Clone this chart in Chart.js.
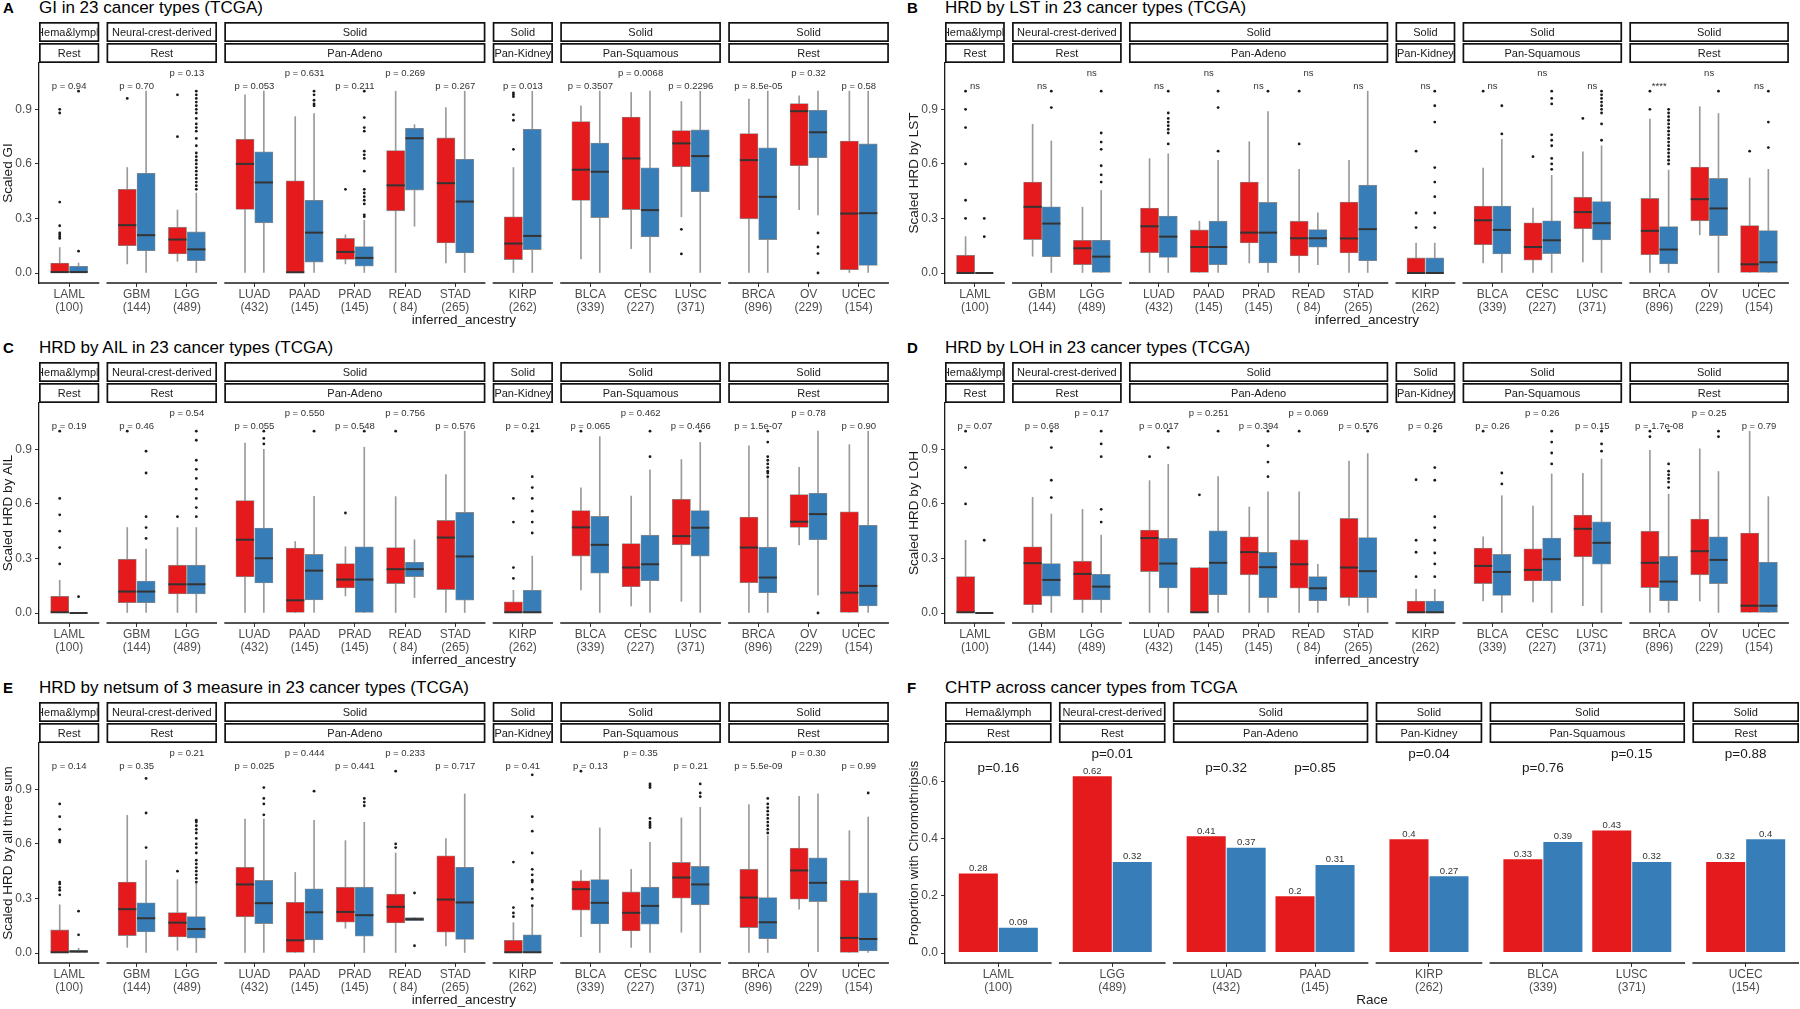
<!DOCTYPE html>
<html>
<head>
<meta charset="utf-8">
<script src="https://cdn.jsdelivr.net/npm/chart.js@4.4.1/dist/chart.umd.min.js"></script>
<style>
body { margin: 0; background: #fff; width: 1800px; height: 1009px; overflow: hidden; position: relative; font-family: "Liberation Sans", Arial, sans-serif; }
canvas { position: absolute; }
.ttl { position: absolute; font-size: 17px; line-height: 18px; color: #000; white-space: nowrap; }
.tag { position: absolute; font-size: 15px; font-weight: bold; line-height: 18px; color: #000; }
</style>
</head>
<body>
<script>
'use strict';
// ---- categories (boxplot panels A-E) ----
var cancers = ['LAML', 'GBM', 'LGG', 'LUAD', 'PAAD', 'PRAD', 'READ', 'STAD', 'KIRP', 'BLCA', 'CESC', 'LUSC', 'BRCA', 'OV', 'UCEC'];
var cohortSizes = ['100', '144', '489', '432', '145', '145', ' 84', '265', '262', '339', '227', '371', '896', '229', '154'];
var facetSizes = [1, 2, 5, 1, 3, 3];
var stripTop = ['Hema&lymph', 'Neural-crest-derived', 'Solid', 'Solid', 'Solid', 'Solid'];
var stripBottom = ['Rest', 'Rest', 'Pan-Adeno', 'Pan-Kidney', 'Pan-Squamous', 'Rest'];
var pRows = [0, 0, 1, 0, 1, 0, 1, 0, 0, 0, 1, 0, 0, 1, 0];
var yTicksBox = [0, 0.3, 0.6, 0.9];

// box stats per cancer: [lower whisker, q1, median, q3, upper whisker]
// A: GI
var giRed = [[0,0,0.005,0.055,0.14],[0.05,0.15,0.263,0.46,0.58],[0.064,0.105,0.184,0.252,0.346],[0,0.35,0.6,0.735,0.98],[0,0,0.004,0.507,0.86],[0.05,0.075,0.116,0.19,0.21],[0,0.342,0.482,0.673,1],[0.055,0.165,0.494,0.743,0.91],[0,0.074,0.162,0.309,0.58],[0.077,0.399,0.568,0.833,0.92],[0.134,0.349,0.63,0.858,0.993],[0.309,0.585,0.713,0.783,0.943],[0,0.298,0.621,0.767,0.956],[0.349,0.59,0.89,0.932,0.974],[0,0.018,0.327,0.726,1]];
var giRedOut = [[0.19,0.2,0.21,0.22,0.26,0.39,0.88,0.9],[0.96],[0.75,0.98],[],[],[0.46],[],[],[0.68,0.84,0.87,0.97,0.98,0.99],[],[],[0.105,0.24],[],[],[]];
var giBlue = [[0,0,0.005,0.037,0.055],[0,0.123,0.208,0.548,1],[0,0.068,0.13,0.226,0.44],[0,0.276,0.498,0.667,1],[0,0.06,0.222,0.4,0.877],[0,0.037,0.083,0.145,0.29],[0.257,0.456,0.741,0.796,0.816],[0,0.11,0.393,0.625,1],[0,0.129,0.204,0.79,1],[0,0.305,0.557,0.715,1],[0,0.199,0.346,0.579,1],[0,0.447,0.643,0.787,1],[0,0.184,0.419,0.689,1],[0.32,0.634,0.774,0.895,1],[0,0.042,0.329,0.71,1]];
var giBlueOut = [[0.12,1],[],[0.46,0.48,0.5,0.52,0.54,0.56,0.58,0.6,0.62,0.64,0.66,0.7,0.74,0.78,0.8,0.82,0.85,0.88,0.9,0.92,0.94,0.96,0.98,1],[],[0.92,0.93,0.95,0.98,1],[0.31,0.32,0.38,0.4,0.42,0.44,0.46,0.56,0.63,0.65,0.67,0.78,0.8,0.855,1],[],[],[],[],[],[],[],[0,0.107,0.143,0.22],[]];
var giP = ['p = 0.94','p = 0.70','p = 0.13','p = 0.053','p = 0.631','p = 0.211','p = 0.269','p = 0.267','p = 0.013','p = 0.3507','p = 0.0068','p = 0.2296','p = 8.5e-05','p = 0.32','p = 0.58'];

// B: LST
var lstRed = [[0,0,0,0.097,0.2],[0.092,0.184,0.364,0.5,0.818],[0,0.046,0.136,0.18,0.362],[0,0.112,0.257,0.357,0.629],[0,0,0.143,0.237,0.285],[0.055,0.165,0.222,0.5,0.722],[0,0.094,0.191,0.285,0.57],[0,0.11,0.19,0.39,0.62],[0,0,0,0.083,0.164],[0.055,0.156,0.29,0.368,0.577],[0,0.07,0.143,0.276,0.357],[0.061,0.243,0.335,0.417,0.667],[0,0.101,0.232,0.41,0.847],[0.21,0.287,0.406,0.583,0.915],[0,0,0.048,0.261,0.522]];
var lstRedOut = [[0.3,0.4,0.6,0.8,0.9,1],[],[],[],[],[],[0.71,1],[],[0.25,0.33,0.67],[1],[0.64],[0.85],[0.9,1],[],[0.67]];
var lstBlue = [[0,0,0,0,0],[0,0.09,0.272,0.364,0.726],[0,0,0.09,0.18,0.454],[0,0.086,0.2,0.313,0.656],[0,0.046,0.143,0.285,0.62],[0,0.055,0.222,0.388,0.888],[0.046,0.142,0.191,0.239,0.331],[0,0.068,0.241,0.483,1],[0,0,0,0.083,0.164],[0,0.105,0.237,0.368,0.735],[0,0.107,0.18,0.287,0.537],[0,0.182,0.274,0.393,0.7],[0,0.05,0.129,0.255,0.566],[0,0.206,0.355,0.52,0.877],[0,0,0.059,0.233,0.57]];
var lstBlueOut = [[0.2,0.3],[0.91,1],[0.5,0.54,0.59,0.68,0.72,0.77,1],[0.71,0.77,0.79,0.81,0.83,0.85,0.88,1],[0.67,0.91,1],[1],[],[],[0.25,0.33,0.42,0.5,0.58,0.83,0.92,1],[0.765,0.92],[0.57,0.6,0.63,0.7,0.73,0.76,0.93,0.96,1],[0.73,0.82,0.88,0.9,0.92,0.94,0.96,0.98,1],[0.6,0.62,0.64,0.66,0.68,0.7,0.72,0.74,0.76,0.78,0.8,0.82,0.84,0.86,0.88,0.9],[1],[0.69,0.83,1]];
var lstP = ['ns','ns','ns','ns','ns','ns','ns','ns','ns','ns','ns','ns','****','ns','ns'];

// C: AIL
var ailRed = [[0,0,0.004,0.092,0.18],[0,0.057,0.118,0.296,0.47],[0,0.105,0.158,0.263,0.47],[0,0.2,0.403,0.618,0.934],[0,0,0.07,0.357,0.393],[0.094,0.138,0.184,0.272,0.364],[0,0.162,0.241,0.36,0.64],[0,0.129,0.415,0.509,0.761],[0,0,0.004,0.062,0.125],[0.127,0.313,0.471,0.563,0.688],[0.039,0.145,0.25,0.382,0.643],[0.064,0.375,0.423,0.625,0.844],[0,0.167,0.36,0.528,0.919],[0.375,0.471,0.502,0.651,0.801],[0,0,0.112,0.557,0.926]];
var ailRedOut = [[0.27,0.36,0.45,0.54,0.63,1],[1],[0.53],[],[],[0.55],[1],[],[0.19,0.25,0.5,0.63],[1],[],[],[],[],[]];
var ailBlue = [[0,0,0,0,0],[0,0.057,0.118,0.176,0.351],[0,0.105,0.158,0.263,0.47],[0,0.165,0.301,0.467,0.9],[0,0.072,0.233,0.322,0.642],[0,0,0.184,0.364,0.912],[0.085,0.2,0.241,0.279,0.403],[0,0.07,0.311,0.553,1],[0,0,0.004,0.125,0.313],[0,0.219,0.375,0.531,0.97],[0,0.178,0.268,0.428,0.787],[0,0.313,0.469,0.563,0.938],[0,0.112,0.195,0.362,0.74],[0.1,0.403,0.544,0.658,1],[0,0.039,0.149,0.482,1]];
var ailBlueOut = [[0.09],[0.41,0.47,0.53,0.77,0.89],[0.53,0.58,0.63,0.68,0.74,0.79,0.84,0.95,1],[0.93,0.96,1],[1],[1],[],[],[0.44,0.5,0.56,0.63,0.69,0.75,1],[],[0.86,1],[1],[0.75,0.77,0.78,0.8,0.82,0.84,0.86,0.94,1],[0],[]];
var ailP = ['p = 0.19','p = 0.46','p = 0.54','p = 0.055','p = 0.550','p = 0.548','p = 0.756','p = 0.576','p = 0.21','p = 0.065','p = 0.462','p = 0.466','p = 1.5e-07','p = 0.78','p = 0.90'];

// D: LOH
var lohRed = [[0,0,0.004,0.2,0.4],[0,0.046,0.274,0.364,0.636],[0,0.072,0.215,0.285,0.57],[0,0.228,0.412,0.456,0.728],[0,0,0.004,0.25,0.25],[0,0.21,0.335,0.419,0.583],[0,0.136,0.268,0.403,0.667],[0.042,0.085,0.25,0.52,0.836],[0,0,0.004,0.066,0.13],[0.066,0.162,0.259,0.357,0.419],[0.061,0.176,0.237,0.353,0.588],[0.04,0.309,0.463,0.539,0.768],[0,0.14,0.276,0.45,0.895],[0.066,0.21,0.34,0.517,0.903],[0,0,0.04,0.44,1]];
var lohRedOut = [[0.6,0.8,1],[],[],[0.86],[0.65],[],[1],[],[0.2,0.334,0.4,0.733],[1],[],[],[0.97,1],[],[]];
var lohBlue = [[0,0,0,0,0],[0,0.092,0.182,0.272,0.544],[0,0.072,0.145,0.213,0.428],[0,0.138,0.272,0.41,0.818],[0,0.101,0.276,0.452,0.75],[0,0.085,0.252,0.333,0.667],[0,0.068,0.136,0.2,0.267],[0,0.085,0.23,0.415,0.877],[0,0,0.004,0.066,0.13],[0,0.097,0.226,0.322,0.645],[0,0.176,0.296,0.412,0.765],[0,0.268,0.386,0.502,0.847],[0,0.068,0.173,0.311,0.654],[0,0.162,0.292,0.419,0.778],[0,0,0.04,0.279,0.64]];
var lohBlueOut = [[0.4],[0.635,0.73,0.91,1],[0.5,0.57,0.86,0.93,1],[0.91,1],[1],[0.75,0.83,0.92,1],[],[1],[0.2,0.27,0.33,0.4,0.47,0.53,0.73,0.8,1],[0.71,0.77],[0.82,0.88,0.94,1],[0.89,0.93,1],[0.69,0.72,0.74,0.76,0.78,0.82,1],[0.97,1],[]];
var lohP = ['p = 0.07','p = 0.68','p = 0.17','p = 0.017','p = 0.251','p = 0.394','p = 0.069','p = 0.576','p = 0.26','p = 0.26','p = 0.26','p = 0.15','p = 1.7e-08','p = 0.25','p = 0.79'];

// E: netsum
var sumRed = [[0,0,0.004,0.127,0.265],[0.031,0.096,0.241,0.39,0.757],[0.015,0.088,0.167,0.222,0.403],[0,0.199,0.377,0.471,0.737],[0,0,0.07,0.279,0.443],[0.136,0.169,0.226,0.362,0.618],[0,0.165,0.254,0.324,0.55],[0.039,0.114,0.294,0.535,0.629],[0,0,0.004,0.07,0.167],[0.09,0.235,0.351,0.397,0.454],[0.031,0.121,0.221,0.336,0.46],[0.114,0.301,0.415,0.498,0.743],[0,0.14,0.305,0.461,0.816],[0.241,0.296,0.454,0.577,0.862],[0,0,0.083,0.399,0.673]];
var sumRedOut = [[0.32,0.345,0.36,0.38,0.39,0.61,0.62,0.68,0.75,0.82],[],[0.45],[],[],[],[0.58,0.6,1],[],[0.2,0.22,0.25,0.5],[1],[],[],[],[],[]];
var sumBlue = [[0,0,0.008,0.015,0.026],[0,0.116,0.191,0.276,0.509],[0,0.081,0.132,0.2,0.384],[0,0.162,0.274,0.399,0.737],[0,0.072,0.224,0.353,0.73],[0,0.092,0.208,0.362,0.719],[0.178,0.178,0.186,0.195,0.195],[0,0.075,0.278,0.471,0.875],[0,0,0.004,0.1,0.25],[0,0.16,0.276,0.404,0.688],[0,0.158,0.259,0.362,0.608],[0,0.265,0.377,0.476,0.801],[0,0.079,0.169,0.305,0.645],[0.007,0.283,0.386,0.524,0.875],[0,0.011,0.077,0.331,0.748]];
var sumBlueOut = [[0.1,0.23],[0.58,0.77,0.96],[0.39,0.41,0.43,0.45,0.47,0.49,0.51,0.55,0.58,0.6,0.63,0.66,0.68,0.7,0.72,0.73],[0.76,0.82,0.85,0.91],[0.89],[0.81,0.83,0.85],[0.04,0.33],[],[0.26,0.3,0.35,0.39,0.4,0.43,0.46,0.55,0.67,0.75,0.98],[],[0.69,0.7,0.71,0.72,0.74,0.91,0.92,0.93],[0.86,0.88,0.93],[0.66,0.68,0.7,0.72,0.74,0.76,0.78,0.8,0.82,0.85],[],[0.88]];
var sumP = ['p = 0.14','p = 0.35','p = 0.21','p = 0.025','p = 0.444','p = 0.441','p = 0.233','p = 0.717','p = 0.41','p = 0.13','p = 0.35','p = 0.21','p = 5.5e-09','p = 0.30','p = 0.99'];

// F: chromothripsis proportion
var chtpCancers = ['LAML', 'LGG', 'LUAD', 'PAAD', 'KIRP', 'BLCA', 'LUSC', 'UCEC'];
var chtpSizes = ['100', '489', '432', '145', '262', '339', '371', '154'];
var chtpFacetSizes = [1, 1, 2, 1, 2, 1];
var chtpRed = [0.28, 0.62, 0.41, 0.2, 0.4, 0.33, 0.43, 0.32];
var chtpBlue = [0.09, 0.32, 0.37, 0.31, 0.27, 0.39, 0.32, 0.4];
var chtpP = ['p=0.16', 'p=0.01', 'p=0.32', 'p=0.85', 'p=0.04', 'p=0.76', 'p=0.15', 'p=0.88'];
var chtpPRows = [0, 1, 0, 0, 1, 0, 1, 1];
var yTicksBar = [0, 0.2, 0.4, 0.6];

var RED = '#E41A1C';
var BLUE = '#377EB8';
var FONT = '"Liberation Sans", Arial, sans-serif';
Chart.defaults.font.family = FONT;

function facetGeometry(sizes, pad, widthPx, gapPx) {
    var spans = sizes.map(function (n) { return n - 1 + 2 * pad; });
    var sum = spans.reduce(function (a, b) { return a + b; }, 0);
    var unitPx = (widthPx - gapPx * (sizes.length - 1)) / sum;
    var gap = gapPx / unitPx;
    var facets = [], pos = [];
    var s = 0;
    sizes.forEach(function (n, k) {
        facets.push({ start: s, end: s + spans[k] });
        for (var j = 0; j < n; j++) pos.push(s + pad + j);
        s += spans[k] + gap;
    });
    return { facets: facets, pos: pos, unitPx: unitPx, total: s - gap };
}

// strips, per-facet x axis lines and text labels
var facetPlugin = {
    id: 'facetStrips',
    afterDraw: function (chart, args, o) {
        var ctx = chart.ctx, area = chart.chartArea, x = chart.scales.x, y = chart.scales.y;
        ctx.save();
        o.facets.forEach(function (f, k) {
            var x0 = x.getPixelForValue(f.start), x1 = x.getPixelForValue(f.end);
            [[o.top[k], area.top - 41], [o.bottom[k], area.top - 20]].forEach(function (s) {
                ctx.fillStyle = '#fff';
                ctx.fillRect(x0, s[1], x1 - x0, 20);
                ctx.strokeStyle = '#111';
                ctx.lineWidth = 1.7;
                ctx.strokeRect(x0 + 0.85, s[1] + 0.85, x1 - x0 - 1.7, 18.3);
                ctx.save();
                ctx.beginPath();
                ctx.rect(x0 + 1.7, s[1], x1 - x0 - 3.4, 20);
                ctx.clip();
                ctx.fillStyle = '#1a1a1a';
                ctx.font = '11px ' + FONT;
                ctx.textAlign = 'center';
                ctx.textBaseline = 'middle';
                ctx.fillText(s[0], (x0 + x1) / 2, s[1] + 10.5);
                ctx.restore();
            });
            ctx.strokeStyle = '#1a1a1a';
            ctx.lineWidth = 1.3;
            ctx.beginPath();
            ctx.moveTo(x0, area.bottom);
            ctx.lineTo(x1, area.bottom);
            ctx.stroke();
        });
        ctx.textAlign = 'center';
        (o.labels || []).forEach(function (l) {
            ctx.fillStyle = l.color;
            ctx.font = l.size + 'px ' + FONT;
            ctx.textBaseline = l.baseline;
            ctx.fillText(l.text, x.getPixelForValue(l.x), y.getPixelForValue(l.y));
        });
        ctx.restore();
    }
};

function makeCanvas(left, top, w, h) {
    var c = document.createElement('canvas');
    c.width = w;
    c.height = h;
    c.style.left = left + 'px';
    c.style.top = top + 'px';
    c.style.width = w + 'px';
    c.style.height = h + 'px';
    document.body.appendChild(c);
    return c;
}

function addTitle(col, row, tag, text) {
    var t = document.createElement('div');
    t.className = 'tag';
    t.textContent = tag;
    t.style.left = (col ? 907 : 3) + 'px';
    t.style.top = (row * 340 - 1) + 'px';
    document.body.appendChild(t);
    var d = document.createElement('div');
    d.className = 'ttl';
    d.textContent = text;
    d.style.left = (col ? 945 : 39) + 'px';
    d.style.top = (row * 340 - 1) + 'px';
    document.body.appendChild(d);
}

function axisOptions(geo, yMin, yMax, yTicks, yTitle, xTitle, names, sizes) {
    return {
        x: {
            type: 'linear', min: 0, max: geo.total, offset: false,
            afterBuildTicks: function (ax) { ax.ticks = geo.pos.map(function (v) { return { value: v }; }); },
            afterFit: function (ax) { ax.height = 46; },
            ticks: {
                autoSkip: false, maxRotation: 0, minRotation: 0, color: '#4d4d4d', padding: 1,
                font: { size: 12, lineHeight: 1.1 },
                callback: function (v, i) { return [names[i], '(' + sizes[i] + ')']; }
            },
            grid: { display: true, drawOnChartArea: false, drawTicks: true, tickLength: 4, color: '#333', offset: false },
            border: { display: false },
            title: { display: true, text: xTitle, color: '#1a1a1a', font: { size: 13.5 }, padding: { top: 0, bottom: 1 } }
        },
        y: {
            min: yMin, max: yMax,
            afterBuildTicks: function (ax) { ax.ticks = yTicks.map(function (v) { return { value: v }; }); },
            afterFit: function (ax) { ax.width = 39; },
            ticks: { color: '#4d4d4d', font: { size: 12 }, padding: 3, callback: function (v) { return v.toFixed(1); } },
            grid: { display: true, drawOnChartArea: false, drawTicks: true, tickLength: 4, color: '#333' },
            border: { display: true, color: '#1a1a1a', width: 1.3 },
            title: { display: true, text: yTitle, color: '#1a1a1a', font: { size: 13.5 }, padding: { top: 0, bottom: 0 } }
        }
    };
}

function boxPanel(col, row, tag, title, yTitle, red, redOut, blue, blueOut, pLabels) {
    addTitle(col, row, tag, title);
    var canvas = makeCanvas(col * 900, row * 340, 900, 329);
    var geo = facetGeometry(facetSizes, 0.6, 854, 7.3);
    var boxPx = 0.36 * geo.unitPx;
    var datasets = [];
    [[red, redOut, RED, -0.1875], [blue, blueOut, BLUE, 0.1875]].forEach(function (g) {
        var st = g[0], out = g[1], fill = g[2], off = g[3];
        datasets.push({
            type: 'bar', order: 3, grouped: false, barThickness: 1, backgroundColor: '#9a9a9a',
            data: st.map(function (s, i) { return { x: geo.pos[i] + off, y: [s[0], s[4]] }; })
        });
        datasets.push({
            type: 'bar', order: 2, grouped: false, barThickness: boxPx, backgroundColor: fill,
            borderColor: '#8a8a8a', borderWidth: 0.8, borderSkipped: false,
            data: st.map(function (s, i) { return { x: geo.pos[i] + off, y: [s[1], s[3]] }; })
        });
        datasets.push({
            type: 'scatter', order: 1, pointStyle: 'line', pointRadius: boxPx / 2, borderColor: '#333', borderWidth: 2,
            data: st.map(function (s, i) { return { x: geo.pos[i] + off, y: s[2] }; })
        });
        var pts = [];
        out.forEach(function (arr, i) {
            arr.forEach(function (v) { pts.push({ x: geo.pos[i] + off, y: v }); });
        });
        datasets.push({
            type: 'scatter', order: 0, pointRadius: 1.4, backgroundColor: '#1a1a1a', borderWidth: 0, data: pts
        });
    });
    var labels = pLabels.map(function (t, i) {
        return { text: t, x: geo.pos[i], y: pRows[i] ? 1.10 : 1.026, size: 9.5, color: '#333', baseline: 'middle' };
    });
    new Chart(canvas, {
        type: 'bar',
        data: { datasets: datasets },
        plugins: [facetPlugin],
        options: {
            responsive: false, animation: false, events: [],
            layout: { padding: { top: 63, left: col ? 6 : 0, right: col ? 1 : 7, bottom: 0 } },
            plugins: {
                legend: { display: false }, tooltip: { enabled: false },
                facetStrips: { facets: geo.facets, top: stripTop, bottom: stripBottom, labels: labels }
            },
            scales: axisOptions(geo, -0.055, 1.155, yTicksBox, yTitle, 'inferred_ancestry', cancers, cohortSizes)
        }
    });
}

function barPanel() {
    addTitle(1, 2, 'F', 'CHTP across cancer types from TCGA');
    var canvas = makeCanvas(900, 680, 900, 329);
    var geo = facetGeometry(chtpFacetSizes, 0.6, 854, 7.3);
    var barPx = 0.45 * geo.unitPx;
    var datasets = [[chtpRed, RED, -0.225], [chtpBlue, BLUE, 0.225]].map(function (g) {
        return {
            type: 'bar', grouped: false, barThickness: barPx, backgroundColor: g[1],
            borderColor: 'rgba(255,255,255,0.55)', borderWidth: 0.8, borderSkipped: false,
            data: g[0].map(function (v, i) { return { x: geo.pos[i] + g[2], y: v }; })
        };
    });
    var labels = [];
    chtpRed.forEach(function (v, i) {
        labels.push({ text: String(v), x: geo.pos[i] - 0.225, y: v, size: 9.5, color: '#333', baseline: 'bottom' });
        labels.push({ text: String(chtpBlue[i]), x: geo.pos[i] + 0.225, y: chtpBlue[i], size: 9.5, color: '#333', baseline: 'bottom' });
        labels.push({ text: chtpP[i], x: geo.pos[i], y: chtpPRows[i] ? 0.697 : 0.648, size: 13.5, color: '#1a1a1a', baseline: 'middle' });
    });
    new Chart(canvas, {
        type: 'bar',
        data: { datasets: datasets },
        plugins: [facetPlugin],
        options: {
            responsive: false, animation: false, events: [],
            layout: { padding: { top: 63, left: 6, right: 1, bottom: 0 } },
            plugins: {
                legend: { display: false }, tooltip: { enabled: false },
                facetStrips: { facets: geo.facets, top: stripTop, bottom: stripBottom, labels: labels }
            },
            scales: axisOptions(geo, -0.035, 0.735, yTicksBar, 'Proportion with Chromothripsis', 'Race', chtpCancers, chtpSizes)
        }
    });
}

boxPanel(0, 0, 'A', 'GI in 23 cancer types (TCGA)', 'Scaled GI', giRed, giRedOut, giBlue, giBlueOut, giP);
boxPanel(1, 0, 'B', 'HRD by LST in 23 cancer types (TCGA)', 'Scaled HRD by LST', lstRed, lstRedOut, lstBlue, lstBlueOut, lstP);
boxPanel(0, 1, 'C', 'HRD by AIL in 23 cancer types (TCGA)', 'Scaled HRD by AIL', ailRed, ailRedOut, ailBlue, ailBlueOut, ailP);
boxPanel(1, 1, 'D', 'HRD by LOH in 23 cancer types (TCGA)', 'Scaled HRD by LOH', lohRed, lohRedOut, lohBlue, lohBlueOut, lohP);
boxPanel(0, 2, 'E', 'HRD by netsum of 3 measure in 23 cancer types (TCGA)', 'Scaled HRD by all three sum', sumRed, sumRedOut, sumBlue, sumBlueOut, sumP);
barPanel();
</script>
</body>
</html>
